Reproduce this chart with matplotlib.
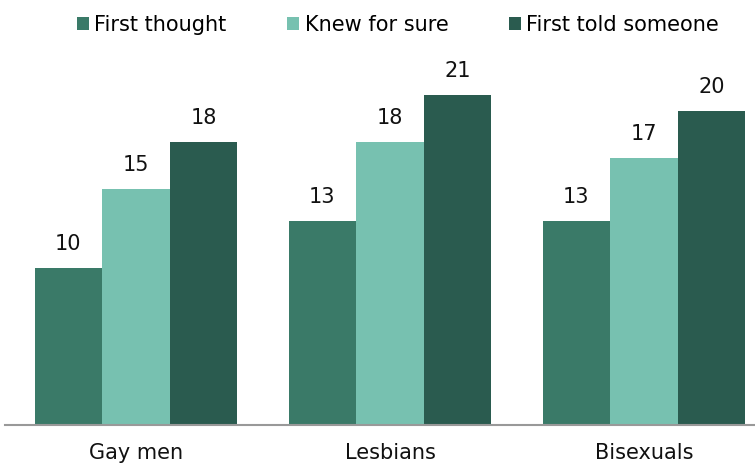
import numpy as np
import matplotlib.pyplot as plt
from matplotlib.patches import Patch

groups = ['Gay men', 'Lesbians', 'Bisexuals']
series = ['First thought', 'Knew for sure', 'First told someone']
first_thought = [10, 13, 13]
knew_for_sure = [15, 18, 17]
first_told = [18, 21, 20]
colors = ['#3a7a68', '#77c1b0', '#2a5b4f']

plt.rcParams['font.family'] = 'DejaVu Sans'

fig = plt.figure(figsize=(7.55, 4.66), dpi=100)
# baseline at y=425px of 466, 1 unit ~ 15.7px
ax = fig.add_axes([5 / 755, 41 / 466, 750 / 755, 25 * 15.7 / 466])

x = np.arange(len(groups))
w = 0.266
for i, (vals, c) in enumerate(zip([first_thought, knew_for_sure, first_told], colors)):
    pos = x + (i - 1) * w
    bars = ax.bar(pos, vals, width=w, color=c, edgecolor='none')
    for b, v in zip(bars, vals):
        ax.text(b.get_x() + b.get_width() / 2, v + 1.55, str(v),
                ha='center', va='center', fontsize=15, color='#111111')

ax.set_xlim((5 - 136) / 254, (755 - 136) / 254)
ax.set_ylim(0, 25)
ax.set_xticks(x)
ax.set_xticklabels(groups, fontsize=15, color='#111111')
ax.tick_params(axis='x', length=0, pad=13)
ax.set_yticks([])
for s in ['top', 'right', 'left']:
    ax.spines[s].set_visible(False)
ax.spines['bottom'].set_color('#999999')
ax.spines['bottom'].set_linewidth(1.5)

handles = [Patch(facecolor=c, edgecolor='none') for c in colors]
fig.legend(handles, series, loc='center', bbox_to_anchor=(0.527, 1 - 25 / 466),
           ncol=3, frameon=False, fontsize=15, handlelength=0.6,
           handleheight=0.6, handletextpad=0.25, columnspacing=2.9,
           borderpad=0, borderaxespad=0)

fig.savefig('out.png', dpi=100)
